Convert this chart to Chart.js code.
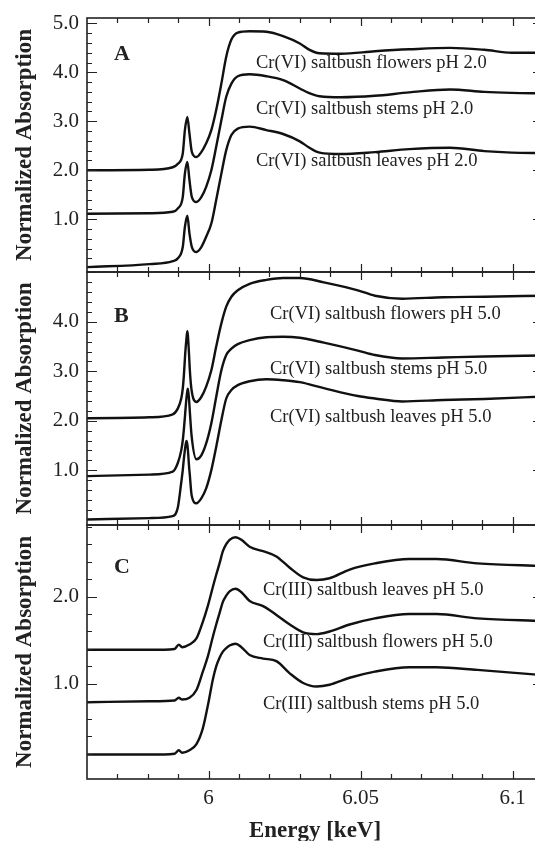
<!DOCTYPE html>
<html>
<head>
<meta charset="utf-8">
<script src="https://cdn.jsdelivr.net/npm/chart.js@4.4.1/dist/chart.umd.min.js"></script>
<style>
  html, body { margin: 0; padding: 0; background: #fff; }
  body { width: 535px; height: 841px; overflow: hidden; position: relative; }
  canvas { position: absolute; left: 0; }
</style>
</head>
<body>
<canvas id="painelA" width="550" height="275" style="top:0px"></canvas>
<canvas id="painelB" width="550" height="258" style="top:270px"></canvas>
<canvas id="painelC" width="550" height="318" style="top:523px"></canvas>
<script>
// ============================================
// DADOS
// ============================================

// Painel A - Cr(VI) pH 2.0
const energiaA = [5.960, 5.9806, 5.9882, 5.9899, 5.9915, 5.9922, 5.9930, 5.9937, 5.9945, 5.9960, 5.9976, 5.9992,
    6.0009, 6.0025, 6.0042, 6.0058, 6.0075, 6.0096, 6.0135, 6.0190, 6.0245, 6.0300, 6.0329, 6.0365, 6.0435,
    6.0547, 6.0660, 6.0794, 6.0907, 6.0997, 6.110];
const floresA = [2.00, 2.01, 2.06, 2.13, 2.34, 2.82, 3.09, 2.75, 2.37, 2.27, 2.37, 2.55,
    2.82, 3.23, 3.77, 4.32, 4.67, 4.81, 4.84, 4.83, 4.74, 4.59, 4.47, 4.39, 4.38,
    4.43, 4.47, 4.50, 4.46, 4.40, 4.40];
const caulesA = [1.11, 1.12, 1.15, 1.22, 1.45, 1.93, 2.17, 1.80, 1.45, 1.35, 1.45, 1.66,
    2.00, 2.48, 3.02, 3.50, 3.77, 3.92, 3.96, 3.92, 3.84, 3.67, 3.58, 3.51, 3.49,
    3.52, 3.59, 3.65, 3.60, 3.58, 3.57];
const folhasA = [0.02, 0.08, 0.14, 0.20, 0.43, 0.84, 1.07, 0.71, 0.43, 0.33, 0.43, 0.64,
    0.91, 1.39, 1.93, 2.41, 2.72, 2.85, 2.89, 2.82, 2.74, 2.59, 2.47, 2.36, 2.33,
    2.37, 2.43, 2.46, 2.39, 2.36, 2.35];

// Painel B - Cr(VI) pH 5.0
const energiaB = [5.9600, 5.9806, 5.9882, 5.9899, 5.9910, 5.9915, 5.9919, 5.9923, 5.9927, 5.9930, 5.9932, 5.9936,
    5.9938, 5.9944, 5.9960, 5.9976, 5.9992, 6.0009, 6.0025, 6.0042, 6.0058, 6.0075, 6.0096, 6.0135,
    6.0190, 6.0245, 6.0300, 6.0379, 6.0491, 6.0547, 6.0637, 6.0772, 6.0907, 6.1100];
const floresB = [2.05, 2.07, 2.13, 2.25, 2.45, 2.65, 2.95, 3.35, 3.65, 3.81, 3.72, 3.30,
    3.05, 2.62, 2.38, 2.48, 2.69, 3.02, 3.50, 3.97, 4.31, 4.51, 4.64, 4.77,
    4.85, 4.89, 4.89, 4.80, 4.64, 4.53, 4.47, 4.50, 4.51, 4.53];
const caulesB = [0.88, 0.91, 0.97, 1.15, 1.40, 1.60, 1.85, 2.15, 2.45, 2.60, 2.65, 2.40,
    2.21, 1.70, 1.22, 1.30, 1.54, 1.95, 2.48, 3.02, 3.33, 3.46, 3.55, 3.63,
    3.69, 3.70, 3.68, 3.58, 3.42, 3.33, 3.26, 3.28, 3.30, 3.32];
const folhasB = [0.00, 0.03, 0.07, 0.25, 0.75, 1.00, 1.25, 1.45, 1.59, 1.52, 1.40, 1.05,
    0.92, 0.50, 0.33, 0.43, 0.63, 1.00, 1.47, 2.01, 2.45, 2.62, 2.72, 2.80,
    2.84, 2.82, 2.78, 2.66, 2.50, 2.45, 2.39, 2.42, 2.44, 2.49];

// Painel C - Cr(III) pH 5.0
const energiaC = [5.9600, 5.9806, 5.9888, 5.9902, 5.9913, 5.9937, 5.9960, 5.9981, 5.9998, 6.0014, 6.0025, 6.0036,
    6.0047, 6.0058, 6.0069, 6.0089, 6.0108, 6.0135, 6.0179, 6.0223, 6.0267, 6.0311, 6.0355, 6.0398,
    6.0464, 6.0547, 6.0660, 6.0750, 6.0884, 6.1100];
const folhasC = [1.39, 1.39, 1.40, 1.45, 1.42, 1.45, 1.52, 1.71, 1.90, 2.11, 2.25, 2.38,
    2.52, 2.60, 2.65, 2.68, 2.65, 2.57, 2.52, 2.46, 2.33, 2.22, 2.19, 2.21,
    2.31, 2.38, 2.43, 2.43, 2.38, 2.35];
const floresC = [0.79, 0.80, 0.81, 0.84, 0.82, 0.84, 0.93, 1.14, 1.32, 1.54, 1.68, 1.81,
    1.94, 2.01, 2.06, 2.09, 2.05, 1.95, 1.89, 1.79, 1.68, 1.59, 1.57, 1.60,
    1.68, 1.75, 1.80, 1.80, 1.75, 1.72];
const caulesC = [0.19, 0.19, 0.20, 0.24, 0.21, 0.24, 0.31, 0.49, 0.76, 1.05, 1.20, 1.30,
    1.37, 1.41, 1.44, 1.46, 1.42, 1.33, 1.29, 1.26, 1.12, 1.01, 0.97, 0.99,
    1.07, 1.14, 1.19, 1.19, 1.16, 1.10];

// Eixos e rótulos
const ticksX = [6, 6.05, 6.1];
const rotulosX = ['6', '6.05', '6.1'];
const ticksYA = [1, 2, 3, 4, 5];
const ticksYB = [1, 2, 3, 4];
const ticksYC = [1, 2];
const textosA = ['Cr(VI) saltbush flowers pH 2.0', 'Cr(VI) saltbush stems pH 2.0', 'Cr(VI) saltbush leaves pH 2.0'];
const textosB = ['Cr(VI) saltbush flowers pH 5.0', 'Cr(VI) saltbush stems pH 5.0', 'Cr(VI) saltbush leaves pH 5.0'];
const textosC = ['Cr(III) saltbush leaves pH 5.0', 'Cr(III) saltbush flowers pH 5.0', 'Cr(III) saltbush stems pH 5.0'];

// ============================================
// ESTILO
// ============================================
const FONTE = "'Liberation Serif', 'Times New Roman', serif";
const COR_TEXTO = '#222';
const COR_LINHA = '#111';
const X_MIN = 5.96, X_MAX = 6.11;

// Moldura, marcas de escala para dentro, letra do painel e textos das curvas
const molduraPainel = {
    id: 'molduraPainel',
    afterDraw(chart, args, o) {
        const { ctx, chartArea: a } = chart;
        const x = chart.scales.x, y = chart.scales.y;
        const topo = chart.canvas.offsetTop;
        ctx.save();
        ctx.strokeStyle = COR_TEXTO;
        ctx.lineWidth = 1.6;
        ctx.strokeRect(a.left, a.top, a.right - a.left, a.bottom - a.top);

        ctx.lineWidth = 1.2;
        ctx.beginPath();
        // marcas em x: 0.01 (menores), 0.05 (maiores)
        for (let i = 1; i <= 15; i++) {
            const px = Math.round(x.getPixelForValue(X_MIN + i * 0.01)) + 0.5;
            const len = (i % 5 === 4) ? 8 : 5;
            ctx.moveTo(px, a.bottom); ctx.lineTo(px, a.bottom - len);
            ctx.moveTo(px, a.top); ctx.lineTo(px, a.top + len);
        }
        // marcas em y: 0.2 (menores), 1.0 (maiores, também à direita)
        for (let k = 1; k * 0.2 < y.max; k++) {
            const v = k * 0.2;
            const py = Math.round(y.getPixelForValue(v)) + 0.5;
            const maior = k % 5 === 0;
            ctx.moveTo(a.left, py); ctx.lineTo(a.left + (maior ? 10 : 5), py);
            if (maior) { ctx.moveTo(a.right, py); ctx.lineTo(a.right - 10, py); }
        }
        ctx.stroke();

        ctx.fillStyle = COR_TEXTO;
        ctx.textBaseline = 'middle';
        ctx.textAlign = 'left';
        ctx.font = `bold 22px ${FONTE}`;
        ctx.fillText(o.letra, o.letraPos[0], o.letraPos[1] - topo);
        ctx.font = `18.5px ${FONTE}`;
        o.textos.forEach((t, i) => ctx.fillText(t, o.textoX, o.textoY[i] - topo));
        ctx.restore();
    }
};

function serie(energia, valores) {
    return {
        data: energia.map((e, i) => ({ x: e, y: valores[i] })),
        borderColor: COR_LINHA,
        borderWidth: 2.4,
        pointRadius: 0,
        cubicInterpolationMode: 'monotone',
        fill: false
    };
}

function criarPainel(id, cfg) {
    const comEixoX = !!cfg.eixoX;
    return new Chart(document.getElementById(id), {
        type: 'line',
        data: { datasets: cfg.series },
        options: {
            responsive: false,
            animation: false,
            devicePixelRatio: 1,
            layout: { padding: { top: cfg.padTop, bottom: cfg.padBottom, right: 7, left: 0 } },
            plugins: {
                legend: { display: false },
                tooltip: { enabled: false },
                molduraPainel: cfg.moldura
            },
            scales: {
                x: {
                    type: 'linear',
                    min: X_MIN, max: X_MAX,
                    display: comEixoX,
                    grid: { display: false, drawTicks: false },
                    border: { display: false },
                    afterBuildTicks: (ax) => { ax.ticks = ticksX.map(v => ({ value: v })); },
                    afterFit: (ax) => {
                        ax.paddingLeft = 0; ax.paddingRight = 0;
                        if (comEixoX) ax.height = 62;
                    },
                    ticks: {
                        padding: 7,
                        color: COR_TEXTO,
                        font: { family: FONTE, size: 21 },
                        maxRotation: 0,
                        callback: (v, i) => rotulosX[i]
                    },
                    title: {
                        display: comEixoX,
                        text: 'Energy [keV]',
                        color: COR_TEXTO,
                        font: { family: FONTE, size: 23, weight: 'bold', lineHeight: 0.85 },
                        padding: { top: 0, bottom: 0 }
                    }
                },
                y: {
                    type: 'linear',
                    min: cfg.yMin, max: cfg.yMax,
                    grid: { display: false, drawTicks: false },
                    border: { display: false },
                    afterBuildTicks: (ax) => { ax.ticks = cfg.ticksY.map(v => ({ value: v })); },
                    afterFit: (ax) => {
                        ax.width = 87;
                        ax.paddingTop = 0; ax.paddingBottom = 0;
                    },
                    ticks: {
                        padding: 8,
                        color: COR_TEXTO,
                        font: { family: FONTE, size: 21 },
                        callback: (v) => Number(v).toFixed(1)
                    },
                    title: {
                        display: true,
                        text: 'Normalized Absorption',
                        color: COR_TEXTO,
                        font: { family: FONTE, size: 23, weight: 'bold' },
                        padding: { top: 11, bottom: 0 }
                    }
                }
            }
        },
        plugins: [molduraPainel]
    });
}

criarPainel('painelA', {
    padTop: 18, padBottom: 3,
    yMin: -0.08, yMax: 5.11, ticksY: ticksYA,
    series: [serie(energiaA, floresA), serie(energiaA, caulesA), serie(energiaA, folhasA)],
    moldura: { letra: 'A', letraPos: [114, 54], textos: textosA, textoX: 256, textoY: [63, 109, 161] }
});

criarPainel('painelB', {
    padTop: 2, padBottom: 3,
    yMin: -0.11, yMax: 5.01, ticksY: ticksYB,
    series: [serie(energiaB, floresB), serie(energiaB, caulesB), serie(energiaB, folhasB)],
    moldura: { letra: 'B', letraPos: [114, 316], textos: textosB, textoX: 270, textoY: [314, 369, 417] }
});

criarPainel('painelC', {
    padTop: 2, padBottom: 0, eixoX: true,
    yMin: -0.09, yMax: 2.82, ticksY: ticksYC,
    series: [serie(energiaC, folhasC), serie(energiaC, floresC), serie(energiaC, caulesC)],
    moldura: { letra: 'C', letraPos: [114, 567], textos: textosC, textoX: 263, textoY: [590, 642, 704] }
});
</script>
</body>
</html>
